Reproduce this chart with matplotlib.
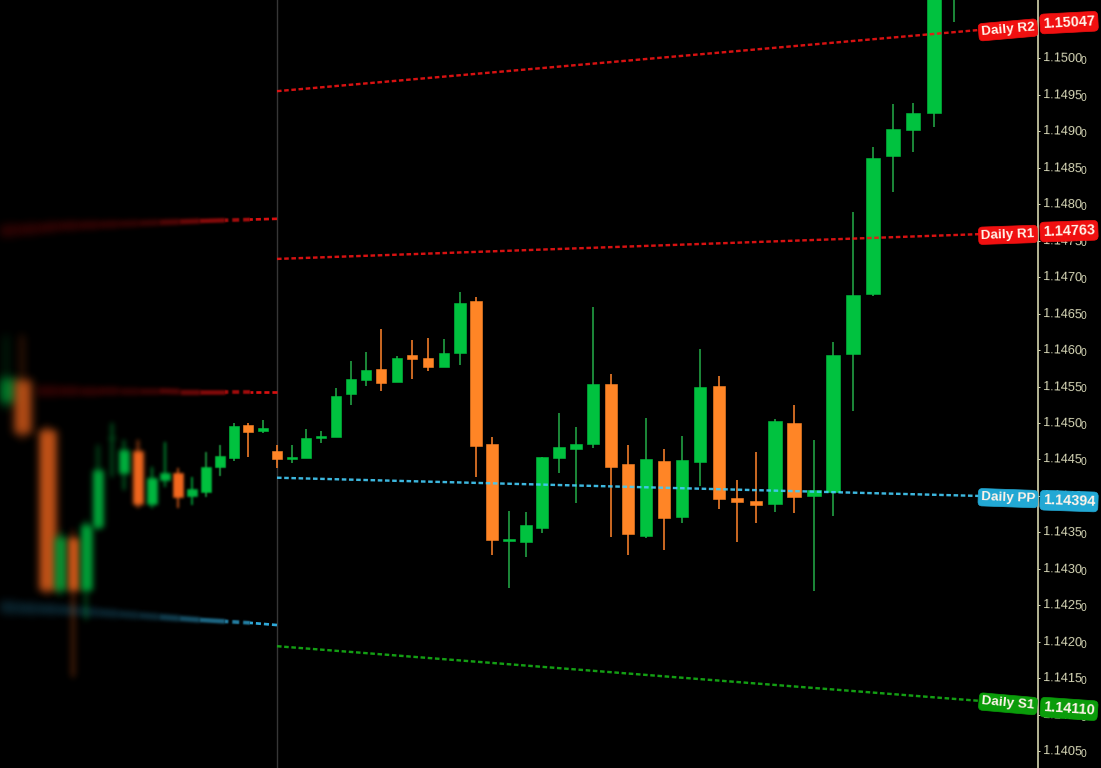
import numpy as np
import matplotlib
matplotlib.use("Agg")
import matplotlib.pyplot as plt
import matplotlib.colors as mcolors

plt.rcParams['font.family'] = ['Liberation Sans', 'DejaVu Sans']

# candles on the blurred side of the separator
left_x = [6, 22, 47, 60, 73, 86, 98, 112, 124, 138, 152, 165, 178, 192, 206, 220, 234, 248, 263]
left_open = [1.14529, 1.14559, 1.14491, 1.14271, 1.14342, 1.14271, 1.14358, 1.14480, 1.14432, 1.14462,
             1.14389, 1.14422, 1.14432, 1.14400, 1.14405, 1.14440, 1.14452, 1.14497, 1.14489]
left_high = [1.14621, 1.14621, 1.14497, 1.14353, 1.14353, 1.14367, 1.14470, 1.14500, 1.14477, 1.14477,
             1.14440, 1.14474, 1.14438, 1.14426, 1.14460, 1.14470, 1.14500, 1.14500, 1.14504]
left_low = [1.14518, 1.14477, 1.14264, 1.14263, 1.14152, 1.14230, 1.14353, 1.14426, 1.14408, 1.14384,
            1.14384, 1.14412, 1.14384, 1.14388, 1.14399, 1.14427, 1.14448, 1.14453, 1.14486]
left_close = [1.14562, 1.14486, 1.14271, 1.14344, 1.14271, 1.14360, 1.14436, 1.14480, 1.14463, 1.14389,
              1.14425, 1.14432, 1.14399, 1.14410, 1.14440, 1.14455, 1.14496, 1.14488, 1.14493]

# candles in focus
main_x = [277, 292, 306, 321, 336, 351, 366, 381, 397, 412, 428, 444, 460, 476, 492, 509, 526, 542, 559, 576,
          593, 611, 628, 646, 664, 682, 700, 719, 737, 756, 775, 794, 814, 833, 853, 873, 893, 913, 934, 954]
main_open = [1.14462, 1.14451, 1.14452, 1.14480, 1.14481, 1.14540, 1.14559, 1.14574, 1.14556, 1.14593,
             1.14589, 1.14577, 1.14596, 1.14667, 1.14471, 1.14338, 1.14337, 1.14356, 1.14452, 1.14464,
             1.14471, 1.14554, 1.14444, 1.14345, 1.14448, 1.14371, 1.14447, 1.14551, 1.14397, 1.14393,
             1.14389, 1.14500, 1.14400, 1.14405, 1.14595, 1.14677, 1.14866, 1.14902, 1.14925, 1.15090]
main_high = [1.14470, 1.14470, 1.14492, 1.14489, 1.14548, 1.14585, 1.14597, 1.14629, 1.14592, 1.14614,
             1.14617, 1.14615, 1.14680, 1.14673, 1.14481, 1.14379, 1.14378, 1.14453, 1.14514, 1.14495,
             1.14659, 1.14567, 1.14470, 1.14507, 1.14464, 1.14482, 1.14602, 1.14565, 1.14422, 1.14460,
             1.14506, 1.14525, 1.14477, 1.14611, 1.14789, 1.14878, 1.14937, 1.14939, 1.15150, 1.15150]
main_low = [1.14438, 1.14445, 1.14452, 1.14473, 1.14481, 1.14525, 1.14551, 1.14544, 1.14556, 1.14560,
            1.14571, 1.14577, 1.14580, 1.14426, 1.14319, 1.14274, 1.14316, 1.14349, 1.14432, 1.14390,
            1.14466, 1.14344, 1.14319, 1.14342, 1.14326, 1.14363, 1.14414, 1.14382, 1.14337, 1.14363,
            1.14378, 1.14377, 1.14270, 1.14373, 1.14517, 1.14674, 1.14817, 1.14872, 1.14906, 1.15050]
main_close = [1.14451, 1.14453, 1.14480, 1.14482, 1.14537, 1.14560, 1.14573, 1.14555, 1.14589, 1.14588,
              1.14577, 1.14596, 1.14665, 1.14469, 1.14340, 1.14341, 1.14360, 1.14453, 1.14467, 1.14471,
              1.14554, 1.14440, 1.14348, 1.14451, 1.14370, 1.14449, 1.14549, 1.14396, 1.14392, 1.14388,
              1.14503, 1.14399, 1.14408, 1.14593, 1.14676, 1.14863, 1.14903, 1.14925, 1.15120, 1.15130]

# pivot levels, value at the separator and at the label
level_names = ['Daily R2', 'Daily R1', 'Daily PP', 'Daily S1']
level_values = ['1.15047', '1.14763', '1.14394', '1.14110']
level_start = [1.14955, 1.14725, 1.14425, 1.14194]
level_end = [1.15039, 1.14759, 1.14400, 1.14119]

# previous day's levels, fading out to the left
old_x = [277, 250, 225, 200, 180, 160, 140, 120, 100, 80, 60, 40, 20, 0]
old_r1 = [1.14780, 1.14779, 1.14778, 1.14777, 1.14776, 1.14775, 1.14774, 1.14773, 1.14772, 1.14771,
          1.14770, 1.14767, 1.14765, 1.14763]
old_pp = [1.14223, 1.14226, 1.14228, 1.14230, 1.14232, 1.14234, 1.14236, 1.14238, 1.14240, 1.14242,
          1.14244, 1.14245, 1.14246, 1.14248]
old_r2_x = [277, 250, 225, 200, 180, 160, 140, 120, 100, 80, 60, 37]
old_r2 = [1.14543, 1.14543, 1.14543, 1.14543, 1.14543, 1.14544, 1.14544, 1.14544, 1.14544, 1.14544,
          1.14544, 1.14544]

ticks = [1.1405, 1.1410, 1.1415, 1.1420, 1.1425, 1.1430, 1.1435, 1.1440, 1.1445, 1.1450,
         1.1455, 1.1460, 1.1465, 1.1470, 1.1475, 1.1480, 1.1485, 1.1490, 1.1495, 1.1500]

GREEN, ORANGE = '#00c23f', '#ff8526'
GREEN_WICK, ORANGE_WICK = '#22a545', '#f8802a'
RED, BLUE, LIME = '#f01414', '#44ccf8', '#16b016'
BOX_RED, BOX_BLUE, BOX_GREEN = '#f01010', '#22a8d4', '#0a9c0a'
PX = 72 / 100  # one pixel in points


def blur(color, sigma, fade=1.0):
    rgb = mcolors.to_rgb(color)
    pad = int(3 * sigma) + 1
    k = np.exp(-np.arange(-pad, pad + 1) ** 2 / (2 * sigma ** 2))
    k /= k.sum()

    def process(img, dpi):
        a = np.pad(img[..., 3], pad)
        a = np.apply_along_axis(np.convolve, 0, a, k, mode='same')
        a = np.apply_along_axis(np.convolve, 1, a, k, mode='same')
        out = np.zeros(a.shape + (4,))
        out[..., :3] = rgb
        out[..., 3] = a * fade
        return out, -pad, -pad
    return process


def candle(x, o, h, l, c, width, sigma=0, fade=1.0, body_color=None, wick_color=None):
    up = c >= o
    body_color = body_color or (GREEN if up else ORANGE)
    wick_color = wick_color or (GREEN_WICK if up else ORANGE_WICK)
    wick, = ax.plot([x, x], [l, h], color=wick_color, lw=1.6 * PX, zorder=2, solid_capstyle='butt')
    body = ax.bar(x, abs(c - o), width, bottom=min(o, c), color=body_color,
                  edgecolor=body_color, linewidth=0.4, zorder=2.1)[0]
    if sigma > 0:
        wick.set_agg_filter(blur(wick_color, sigma, fade))
        body.set_agg_filter(blur(body_color, sigma, fade))


def old_level(xs, ys, color):
    for i in range(len(xs) - 1):
        mid = (xs[i] + xs[i + 1]) / 2
        away = 277 - mid
        seg, = ax.plot(xs[i:i + 2], ys[i:i + 2], color=color, zorder=1.5,
                       lw=(2.2 + away / 28) * PX, linestyle=(0, (1.9, 1.1)) if away < 60 else '-',
                       solid_capstyle='butt')
        if away > 15:
            seg.set_agg_filter(blur(color, away / 60, max(0.22, 1 - away / 170)))


fig = plt.figure(figsize=(11.01, 7.68), dpi=100, facecolor='black')
ax = fig.add_axes([0, 0, 1038 / 1101, 1], facecolor='black')
ax.set_xlim(0, 1038)
ax.set_ylim(1.14027, 1.15080)

ax.axvline(277, color='#363636', lw=1.4 * PX, zorder=1)

old_level(old_x, old_r1, '#d81010')
old_level(old_r2_x, old_r2, '#d81010')
old_level(old_x, old_pp, '#2fa8d8')

for i, x in enumerate(left_x):
    if x < 40:
        width = 17
    elif x == 47:
        width = 17
    elif x < 90:
        width = 11
    else:
        width = 10
    sigma = max(0, (250 - x) / 50)
    fade = min(1, 0.65 + x / 400)
    up = left_close[i] >= left_open[i]
    if x < 200:
        col = '#00b840' if up else '#f5681e'
    else:
        col = None
    candle(x, left_open[i], left_high[i], left_low[i], left_close[i], width,
           sigma if sigma > 0.2 else 0, fade, col, col)

for i, x in enumerate(main_x):
    width = 10 + max(0, x - 300) * 0.0065
    candle(x, main_open[i], main_high[i], main_low[i], main_close[i], width)

# pivot lines and their tags
line_colors = [RED, RED, BLUE, LIME]
box_colors = [BOX_RED, BOX_RED, BOX_BLUE, BOX_GREEN]
tag_angles = [5, 2, -2, -5]
value_angles = [3, 2, -2, -4]
tag_shift = [0.00000, -0.00001, -0.00003, -0.00004]
value_shift = [0.00010, 0.00004, -0.00007, -0.00011]
for i, name in enumerate(level_names):
    ax.plot([277, 980], [level_start[i], level_end[i]], color=line_colors[i], lw=2.4 * PX,
            linestyle=(0, (1.9, 1.1)), alpha=0.9, zorder=3)
    box = dict(boxstyle='round,pad=0.2,rounding_size=0.3', fc=box_colors[i], ec=box_colors[i], lw=0.5)
    ax.text(1008, level_end[i] + tag_shift[i], name, color='#fff4ea', fontsize=9.7, fontweight='bold',
            ha='center', va='center', rotation=tag_angles[i], rotation_mode='anchor', bbox=box, zorder=4)
    ax.text(1069, level_end[i] + value_shift[i], level_values[i], color='#fff4ea', fontsize=10.4,
            fontweight='bold', ha='center', va='center', rotation=value_angles[i],
            rotation_mode='anchor', bbox=box, zorder=4, clip_on=False)

# price axis
for side in ['top', 'left', 'bottom']:
    ax.spines[side].set_visible(False)
ax.spines['right'].set_color('#dcdcb4')
ax.spines['right'].set_linewidth(1.6 * PX)
ax.set_xticks([])
ax.yaxis.tick_right()
ax.set_yticks(ticks)
ax.set_yticklabels(['%.4f' % t for t in ticks])
ax.tick_params(axis='y', length=2.5 * PX, width=1 * PX, color='#d8d8b8', labelcolor='#d8d8b8',
               labelsize=9.2, pad=2.5 * PX)
plt.setp(ax.get_yticklabels(), rotation=-2, rotation_mode='anchor', va='center')
for t in ticks:
    ax.annotate('0', xy=(1, t), xycoords=('axes fraction', 'data'), xytext=(30.8, -2), textcoords='offset points',
                color='#d8d8b8', fontsize=7.5, ha='left', va='center', zorder=1)

fig.savefig('out.png', dpi=100, facecolor='black')
